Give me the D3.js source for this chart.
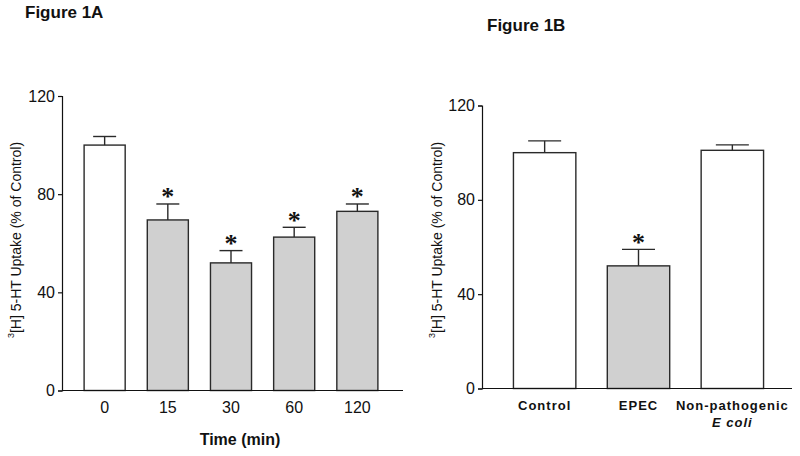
<!DOCTYPE html>
<html><head><meta charset="utf-8">
<script src="https://cdn.jsdelivr.net/npm/d3@7"></script>
<style>body{margin:0;background:#fff}svg{display:block}text{font-family:Arial,"Liberation Sans",sans-serif;fill:#111}</style>
</head><body><svg id="c" width="800" height="456"></svg>
<script>
// Figure 1A data
const timeLabels = ["0", "15", "30", "60", "120"];
const timeMeans = [100, 69.5, 52, 62.5, 73];
const timeSEM = [3.5, 6.5, 5, 4, 3];
const timeSignificant = [false, true, true, true, true];
const timeFill = ["#ffffff", "#d0d0d0", "#d0d0d0", "#d0d0d0", "#d0d0d0"];
// Figure 1B data
const groupLabels = ["Control", "EPEC", "Non-pathogenic"];
const groupSubLabels = ["", "", "E coli"];
const groupMeans = [100, 52, 101];
const groupSEM = [5, 7, 2.3];
const groupSignificant = [false, true, false];
const groupFill = ["#ffffff", "#d0d0d0", "#ffffff"];
const yTicks = [0, 40, 80, 120];

const svg = d3.select("#c");

function panel(opt){
  const g = svg.append("g");
  const x = d3.scaleBand().domain(opt.labels).range(opt.xr).paddingInner(opt.pi).paddingOuter(opt.po);
  const y = d3.scaleLinear().domain([0,120]).range(opt.yr);
  opt.labels.forEach((lab,i)=>{
    const cx = x(lab) + x.bandwidth()/2;
    g.append("rect").attr("x", x(lab)).attr("y", y(opt.means[i]))
      .attr("width", x.bandwidth()).attr("height", y(0)-y(opt.means[i]))
      .attr("fill", opt.fill[i]).attr("stroke","#2a2a2a").attr("stroke-width",1.4);
    const yt = y(opt.means[i]+opt.sem[i]);
    g.append("line").attr("x1",cx).attr("x2",cx).attr("y1",y(opt.means[i])).attr("y2",yt)
      .attr("stroke","#2a2a2a").attr("stroke-width",1.4);
    g.append("line").attr("x1",cx-opt.cap/2).attr("x2",cx+opt.cap/2).attr("y1",yt).attr("y2",yt)
      .attr("stroke","#2a2a2a").attr("stroke-width",1.4);
    if(opt.sig[i]){
      g.append("text").attr("x",cx).attr("y",yt-13).attr("dy","0.55em").attr("text-anchor","middle")
        .style("font-family","'Liberation Serif',serif").style("font-size","26px").style("font-weight","bold")
        .text("*");
    }
  });
  g.append("line").attr("x1",opt.xr[0]).attr("x2",opt.xEnd).attr("y1",y(0)).attr("y2",y(0))
    .attr("stroke","#111").attr("stroke-width",1.2);
  const ya = g.append("g").attr("transform",`translate(${opt.xr[0]},0)`)
    .call(d3.axisLeft(y).tickValues(yTicks).tickSize(4).tickPadding(3));
  ya.select(".domain").attr("stroke","#111").attr("stroke-width",1.2);
  ya.selectAll(".tick line").attr("stroke","#111").attr("stroke-width",1.2);
  ya.selectAll(".tick text").style("font-size","16px").style("font-family","Arial,'Liberation Sans',sans-serif").attr("fill","#111");
  opt.labels.forEach((lab,i)=>{
    const cx = x(lab) + x.bandwidth()/2;
    g.append("text").attr("x",cx).attr("y",opt.xlabY).attr("text-anchor","middle")
      .style("font-size",opt.xlabSize).style("font-weight",opt.xlabWeight)
      .style("letter-spacing",opt.xlabLS).text(lab);
    if(opt.sub && opt.sub[i]){
      g.append("text").attr("x",cx).attr("y",opt.xlabY+17).attr("text-anchor","middle")
        .style("font-size",opt.xlabSize).style("font-weight","bold").style("font-style","italic")
        .style("letter-spacing",opt.xlabLS).text(opt.sub[i]);
    }
  });
  const yl = g.append("text").attr("transform",`translate(${opt.ylabX},${opt.ylabY}) rotate(-90)`)
    .attr("text-anchor","middle").attr("dominant-baseline","central").style("font-size","14px");
  yl.append("tspan").style("font-size","9px").attr("dy","-5").text("3");
  yl.append("tspan").attr("dy","5").text("[H] 5-HT Uptake (% of Control)");
  return {x,y};
}

panel({labels:timeLabels, means:timeMeans, sem:timeSEM, sig:timeSignificant, fill:timeFill,
  xr:[62,400], pi:0.35, po:0.35, yr:[390.5,96], xEnd:403, cap:23,
  xlabY:413, xlabSize:"16px", xlabWeight:"normal", xlabLS:"0px", ylabX:16, ylabY:240});
panel({labels:groupLabels, sub:groupSubLabels, means:groupMeans, sem:groupSEM, sig:groupSignificant, fill:groupFill,
  xr:[482,795], pi:0.335, po:0.335, yr:[388.5,105.5], xEnd:792, cap:33,
  xlabY:410, xlabSize:"13px", xlabWeight:"bold", xlabLS:"1px", ylabX:437, ylabY:240});

svg.append("text").attr("x",25).attr("y",18).style("font-size","17px").style("font-weight","bold").text("Figure 1A");
svg.append("text").attr("x",487).attr("y",31).style("font-size","17px").style("font-weight","bold").text("Figure 1B");
svg.append("text").attr("x",240).attr("y",445).attr("text-anchor","middle").style("font-size","16px").style("font-weight","bold").text("Time (min)");
</script></body></html>
